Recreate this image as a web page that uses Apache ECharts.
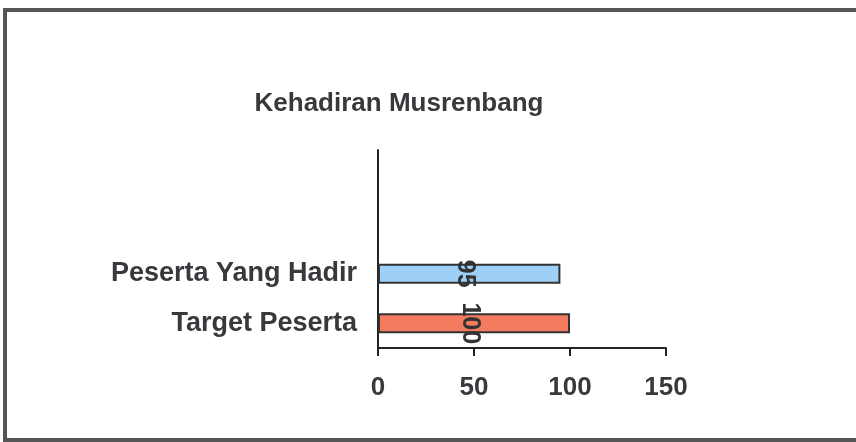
<!DOCTYPE html>
<html>
<head>
<meta charset="utf-8">
<script src="https://cdn.jsdelivr.net/npm/echarts@6/dist/echarts.min.js"></script>
<style>
  html, body { margin: 0; padding: 0; background: #fff; }
  #chart { width: 856px; height: 442px; }
</style>
</head>
<body>
<div id="chart"></div>
<script>
// kategori (dari bawah ke atas), dua slot teratas kosong seperti di grafik asli
const categories = ['Target Peserta', 'Peserta Yang Hadir', '', ''];
const values = [100, 95, null, null];
const xTicks = [0, 50, 100, 150];

const barColors = ['#F57B60', '#9DCFF7'];
const font = '"Liberation Sans", Arial, sans-serif';

const chart = echarts.init(document.getElementById('chart'));
chart.setOption({
  backgroundColor: '#ffffff',
  animation: false,
  title: {
    text: 'Kehadiran Musrenbang',
    left: 394,
    top: 86,
    textAlign: 'center',
    textStyle: { fontFamily: font, fontSize: 26, fontWeight: 'bold', color: '#38383d' },
  },
  graphic: [{
    type: 'rect',
    shape: { x: 5, y: 10, width: 900, height: 430 },
    style: { fill: 'none', stroke: '#555558', lineWidth: 4 },
    silent: true,
  }],
  grid: { left: 378, right: 190, top: 150, bottom: 94 },
  xAxis: {
    type: 'value',
    min: xTicks[0],
    max: xTicks[xTicks.length - 1],
    interval: 50,
    axisLine: { show: true, lineStyle: { color: '#222', width: 2 } },
    axisTick: { show: true, length: 8, lineStyle: { color: '#222', width: 2 } },
    splitLine: { show: false },
    axisLabel: { fontFamily: font, fontSize: 26, fontWeight: 'bold', color: '#38383d', margin: 27 },
  },
  yAxis: {
    type: 'category',
    data: categories,
    axisLine: { show: true, lineStyle: { color: '#222', width: 2 } },
    axisTick: { show: false },
    axisLabel: { fontFamily: font, fontSize: 27, fontWeight: 'bold', color: '#38383d', margin: 21 },
  },
  series: [{
    type: 'bar',
    data: values,
    barWidth: 20,
    itemStyle: {
      color: (p) => barColors[p.dataIndex % barColors.length],
      borderColor: '#333',
      borderWidth: 2,
    },
    label: {
      show: true,
      position: 'inside',
      rotate: -90,
      fontFamily: font,
      fontSize: 25,
      fontWeight: 'bold',
      color: '#333',
      offset: [0, 4],
    },
  }],
});
</script>
</body>
</html>
